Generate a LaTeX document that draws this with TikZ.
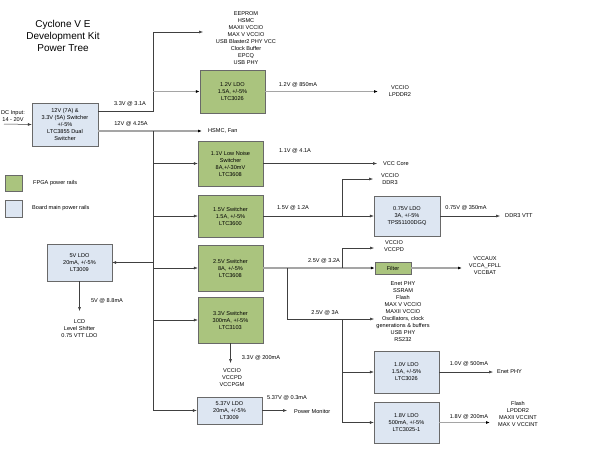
\documentclass[tikz,border=0pt]{standalone}
\usepackage{fontspec}
\setmainfont{Liberation Sans}
\usetikzlibrary{arrows.meta}
\definecolor{fpgagreen}{RGB}{170,196,126}
\definecolor{boardblue}{RGB}{221,230,242}
\definecolor{rimgray}{RGB}{105,105,105}
\definecolor{railgray}{RGB}{165,165,165}
\tikzset{
	fpga/.style={draw=rimgray, fill=fpgagreen, minimum width=65pt, inner sep=0pt, align=center},
	board/.style={draw=rimgray, fill=boardblue, minimum width=65pt, inner sep=0pt, align=center},
	wire/.style={draw=black!75, line width=0.5pt, -{Latex[length=4pt,width=3pt]}},
	rail/.style={draw=railgray, line width=1.2pt, -{Latex[length=4pt,width=3pt,black]}},
	txt/.style={inner sep=0pt, align=center},
}
\begin{document}
\begin{tikzpicture}[x=1pt, y=-1pt, font=\fontsize{5.6}{7}\selectfont]
	\fill[white] (0,0) rectangle (596,452);
	\useasboundingbox (0,0) rectangle (596,452);
	
	%title
	\node (title) at (63,36) [txt, font=\fontsize{10}{12}\selectfont]{Cyclone V E\\Development Kit\\Power Tree};
	
	%legend
	\node (keyA) at (13.5,183) [fpga, minimum width=17pt, minimum height=16pt]{};
	\node (keyB) at (13.5,208.5) [board, minimum width=17pt, minimum height=17pt]{};
	\node (keyAtxt) at (33,183) [txt, anchor=west]{FPGA power rails};
	\node (keyBtxt) at (32,208.5) [txt, anchor=west]{Board main power rails};
	
	%boxes
	\node (sw) at (65,124.5) [board, minimum width=66pt, minimum height=43pt]{12V (7A) \&\\3.3V (5A) Switcher\\+/-5\%\\LTC3855 Dual\\Switcher};
	\node (ldoA) at (232.5,91.5) [fpga, minimum height=43pt]{1.2V LDO\\1.5A, +/-5\%\\LTC3026};
	\node (swB) at (230.5,163.5) [fpga, minimum height=45pt]{1.1V Low Noise\\Switcher\\8A,+/-30mV\\LTC3608};
	\node (swC) at (230.5,216) [fpga, minimum height=42pt]{1.5V Switcher\\1.5A, +/-5\%\\LTC3600};
	\node (swD) at (230.5,268) [fpga, minimum height=46pt]{2.5V Switcher\\8A, +/-5\%\\LTC3608};
	\node (swE) at (230.5,320) [fpga, minimum height=46pt]{3.3V Switcher\\300mA, +/-5\%\\LTC3103};
	\node (ldoF) at (229.5,410.5) [board, minimum height=27pt]{5.37V LDO\\20mA, +/-5\%\\LT3009};
	\node (ldoG) at (79.5,262.5) [board, minimum height=37pt]{5V LDO\\20mA, +/-5\%\\LT3009};
	\node (ldoH) at (407,216) [board, minimum width=66pt, minimum height=40pt]{0.75V LDO\\3A, +/-5\%\\TPS51100DGQ};
	\node (filt) at (393,268) [fpga, minimum width=36pt, minimum height=12pt]{Filter};
	\node (ldoI) at (406.5,372) [board, minimum height=42pt]{1.0V LDO\\1.5A, +/-5\%\\LTC3026};
	\node (ldoJ) at (406.5,422.5) [board, minimum height=41pt]{1.8V LDO\\500mA, +/-5\%\\LTC3025-1};
	
	%loads
	\node (loadA) at (246,38.5) [txt]{EEPROM\\HSMC\\MAXII VCCIO\\MAX V VCCIO\\USB Blaster2 PHY VCC\\Clock Buffer\\EPCQ\\USB PHY};
	\node (loadB) at (400,91.5) [txt]{VCCIO\\LPDDR2};
	\node (loadC) at (208,131) [txt, anchor=west]{HSMC, Fan};
	\node (loadD) at (383,163.5) [txt, anchor=west]{VCC Core};
	\node (loadE) at (390,179.5) [txt]{VCCIO\\DDR3};
	\node (loadF) at (505,216) [txt, anchor=west]{DDR3 VTT};
	\node (loadG) at (394,246.5) [txt]{VCCIO\\VCCPD};
	\node (loadH) at (485,266) [txt]{VCCAUX\\VCCA\_FPLL\\VCCBAT};
	\node (loadI) at (403,312) [txt]{Enet PHY\\SSRAM\\Flash\\MAX V VCCIO\\MAXII VCCIO\\Oscillators, clock\\generations \& buffers\\USB PHY\\RS232};
	\node (loadJ) at (79.5,329) [txt]{LCD\\Level Shifter\\0.75 VTT LDO};
	\node (loadK) at (232,378) [txt]{VCCIO\\VCCPD\\VCCPGM};
	\node (loadL) at (294,411) [txt, anchor=west]{Power Monitor};
	\node (loadM) at (497,372) [txt, anchor=west]{Enet PHY};
	\node (loadN) at (518,413.5) [txt]{Flash\\LPDDR2\\MAXII VCCINT\\MAX V VCCINT};
	\node (dc) at (13,116.5) [txt]{DC Input:\\14 - 20V};
	
	%rail labels
	\node (vA) at (130,104) [txt]{3.3V @ 3.1A};
	\node (vB) at (131,124) [txt]{12V @ 4.25A};
	\node (vC) at (298,85) [txt]{1.2V @ 850mA};
	\node (vD) at (295,151) [txt]{1.1V @ 4.1A};
	\node (vE) at (293,208) [txt]{1.5V @ 1.2A};
	\node (vF) at (466,208) [txt]{0.75V @ 350mA};
	\node (vG) at (324,261) [txt]{2.5V @ 3.2A};
	\node (vH) at (325,313) [txt]{2.5V @ 3A};
	\node (vI) at (107,301) [txt]{5V @ 8.8mA};
	\node (vJ) at (261,358) [txt]{3.3V @ 200mA};
	\node (vK) at (287,398) [txt]{5.37V @ 0.3mA};
	\node (vL) at (469,364) [txt]{1.0V @ 500mA};
	\node (vM) at (469,417) [txt]{1.8V @ 200mA};
	
	%junctions and arrow ends
	\coordinate (dcIn) at (4,124);
	\coordinate (j33) at (153,111);
	\coordinate (j12) at (153,131);
	\coordinate (j15) at (342,216);
	\coordinate (j25) at (287,268);
	\coordinate (j25up) at (342,268);
	\coordinate (j25dn) at (342,319);
	\coordinate (eepIn) at (203,32);
	\coordinate (fanIn) at (202,131);
	\coordinate (lpIn) at (378,91.5);
	\coordinate (coreIn) at (377,163.5);
	\coordinate (ddrIn) at (373,179);
	\coordinate (vttIn) at (500,216);
	\coordinate (pdIn) at (374,248);
	\coordinate (auxIn) at (462,268);
	\coordinate (enetIn) at (374,319);
	\coordinate (lcdIn) at (79.5,311);
	\coordinate (pgmIn) at (230.5,363);
	\coordinate (monIn) at (287,410.5);
	\coordinate (enet2In) at (493,372);
	\coordinate (flashIn) at (490,422.5);
	
	%input side
	\draw[wire] (dcIn) -- (sw.west);
	\draw[wire] (sw.east |- j33) -- (j33) |- (eepIn);
	\draw[rail] (j33 |- ldoA.west) -- (ldoA.west);
	\draw[rail] (sw.east |- j12) -- (fanIn);
	\draw[wire] (j12) |- (ldoF.west);
	\foreach \b in {swB, swC, swD, swE}{
		\draw[wire] (j12 |- \b.west) -- (\b.west);
	}
	\draw[wire] (j12 |- ldoG.east) -- (ldoG.east);
	\draw[wire] (ldoG.south) -- (lcdIn);
	
	%outputs
	\draw[rail] (ldoA.east) -- (lpIn);
	\draw[wire] (swB.east) -- (coreIn);
	\draw[wire] (swC.east) -- (ldoH.west);
	\draw[wire] (j15) |- (ddrIn);
	\draw[wire] (ldoH.east) -- (vttIn);
	\draw[rail] (swD.east) -- (filt.west);
	\draw[wire] (j25up) |- (pdIn);
	\draw[rail] (filt.east) -- (auxIn);
	\draw[wire] (j25) |- (enetIn);
	\draw[wire] (j25dn) |- (ldoJ.west);
	\draw[wire] (j25dn |- ldoI.west) -- (ldoI.west);
	\draw[wire] (swE.south) -- (pgmIn);
	\draw[wire] (ldoF.east) -- (monIn);
	\draw[wire] (ldoI.east) -- (enet2In);
	\draw[rail] (ldoJ.east) -- (flashIn);
\end{tikzpicture}
\end{document}
